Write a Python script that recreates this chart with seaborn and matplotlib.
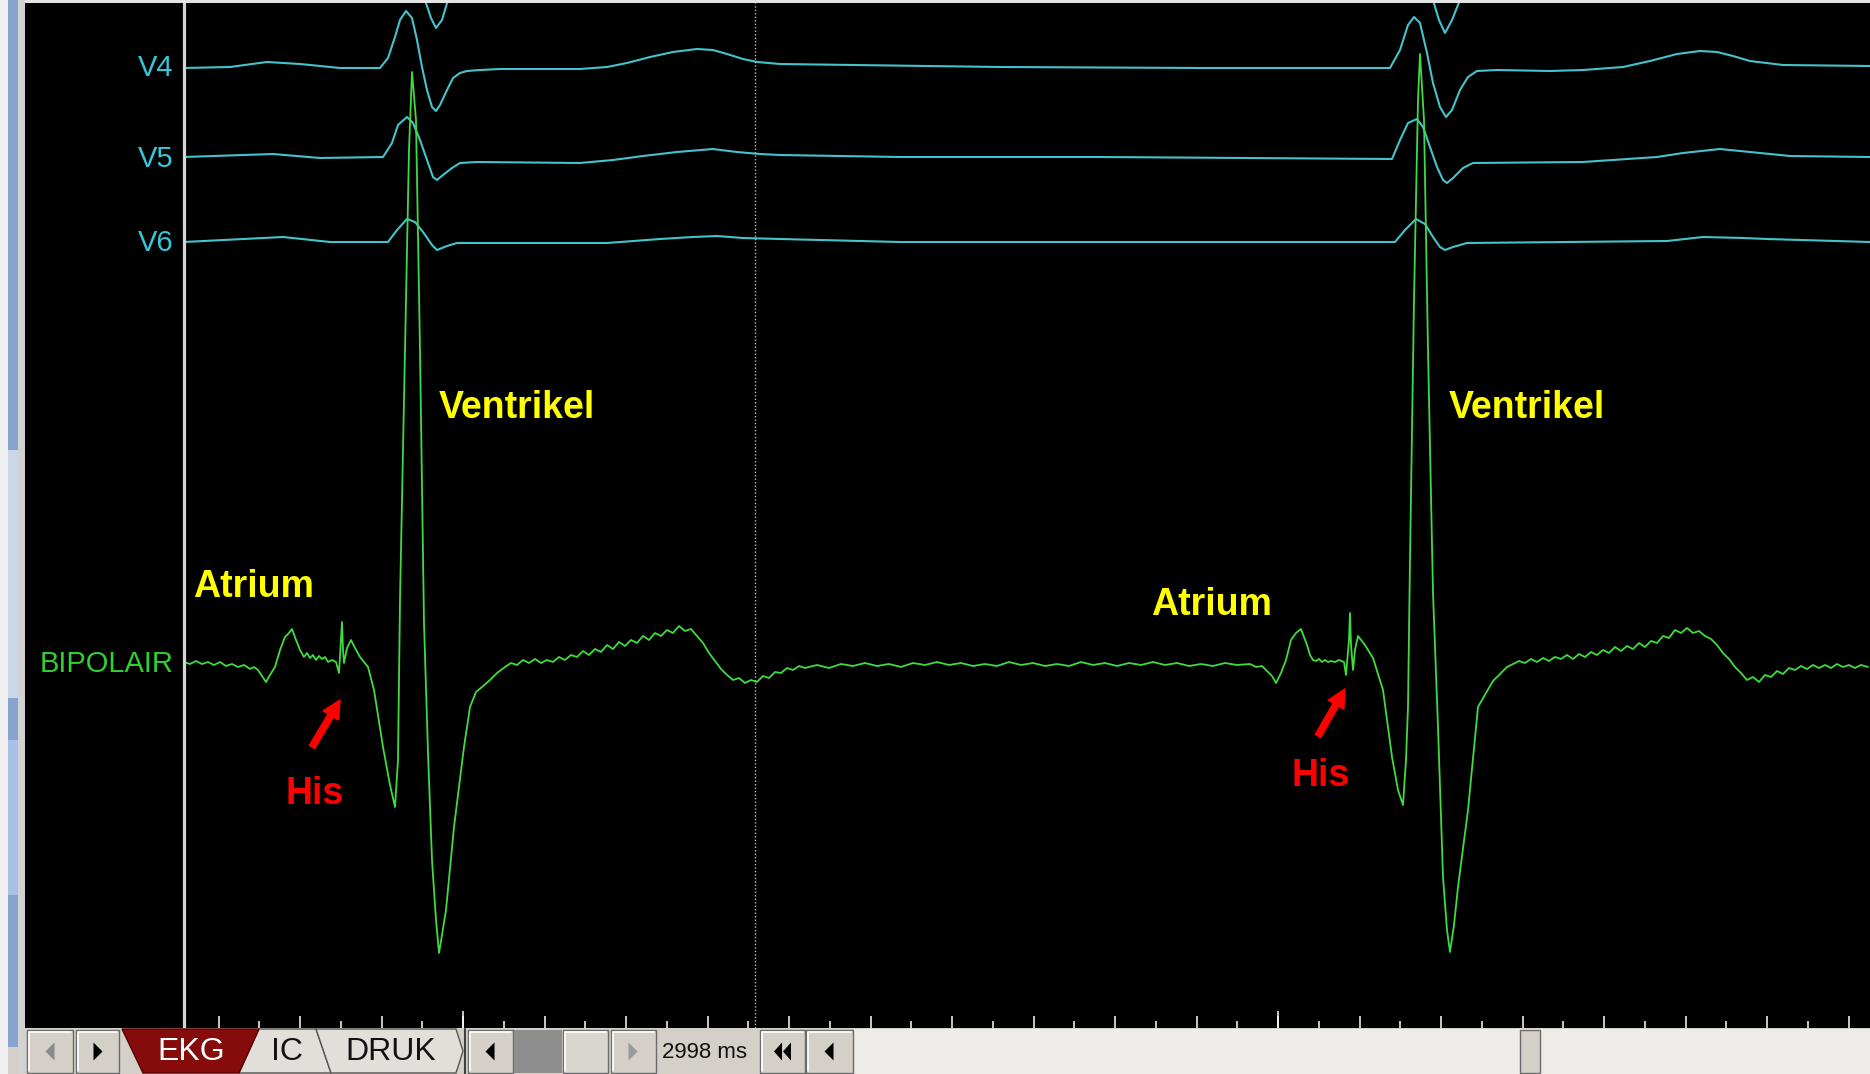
import numpy as np
import pandas as pd
import seaborn as sns
import matplotlib
matplotlib.use("Agg")
import matplotlib.pyplot as plt
from matplotlib.patches import Rectangle, Polygon
from matplotlib import font_manager

# ---------------- data (sample index at 815 Hz, amplitude in display units) -------------
bip_samples = [2, 8, 14, 20, 26, 32, 38, 44, 50, 56, 62, 68, 72, 76, 80, 84, 88, 93, 98, 103, 107, 110,
               114, 118, 122, 125, 128, 131, 134, 137, 140, 143, 146, 150, 154, 157, 159, 160, 161, 162,
               165, 169, 173, 178, 186, 192, 201, 208, 213, 216, 218, 223, 227, 230, 234, 238, 242, 246,
               250, 254, 257, 260, 264, 272, 282, 288, 294, 300, 308, 315, 323, 329, 335, 341, 347, 353,
               359, 365, 371, 377, 383, 389, 395, 401, 407, 413, 419, 425, 431, 437, 443, 449, 455, 461,
               467, 473, 479, 485, 491, 497, 503, 509, 515, 521, 527, 533, 539, 545, 551, 557, 563, 569,
               575, 581, 587, 593, 599, 605, 611, 617, 623, 635, 647, 659, 671, 683, 695, 707, 719, 731,
               743, 755, 767, 779, 791, 803, 815, 827, 839, 851, 863, 875, 887, 899, 911, 923, 935, 947,
               959, 971, 983, 995, 1007, 1019, 1031, 1043, 1055, 1068,
               1074, 1080, 1086, 1090, 1094, 1099, 1104, 1109, 1114, 1119, 1125, 1128, 1131, 1134, 1137,
               1140, 1143, 1146, 1149, 1153, 1157, 1162, 1164, 1167, 1168, 1169, 1171, 1173, 1176, 1183,
               1191, 1201, 1210, 1216, 1221, 1224, 1226, 1228, 1232, 1236, 1238, 1242, 1246, 1251, 1256,
               1261, 1265, 1268, 1272, 1276, 1286, 1296, 1304, 1311, 1319, 1325, 1331, 1337, 1343, 1349,
               1355, 1361, 1367, 1373, 1379, 1385, 1391, 1397, 1403, 1409, 1415, 1421, 1427, 1433, 1439,
               1445, 1451, 1457, 1463, 1469, 1475, 1481, 1487, 1493, 1499, 1505, 1511, 1517, 1523, 1529,
               1535, 1541, 1547, 1553, 1559, 1565, 1571, 1577, 1583, 1589, 1595, 1601, 1607, 1613, 1619,
               1625, 1631, 1637, 1643, 1649, 1655, 1661, 1667, 1673, 1679, 1686]
bip_amp = [1, -1, 2, -1, 1, -2, 1, -3, -1, -4, -2, -6, -4, -7, -13, -19, -12, -4, 13, 26, 30, 34,
           23, 13, 6, 10, 5, 8, 3, 7, 4, 6, 1, 3, 1, -10, 23, 41, 13, 0,
           15, 23, 15, 6, -4, -27, -84, -122, -144, -97, 63, 313, 513, 591, 543, 313, 40, -90,
           -197, -257, -290, -272, -247, -164, -84, -44, -29, -24, -17, -10, -4, 0, -2, 3, 0, 4,
           0, 3, 1, 6, 3, 8, 6, 12, 8, 14, 11, 18, 14, 21, 17, 23, 20, 27,
           23, 30, 27, 33, 30, 37, 32, 34, 27, 20, 10, 2, -6, -12, -17, -15, -20, -17,
           -19, -13, -15, -9, -10, -5, -7, -3, -5, -2, -5, -1, -3, 0, -3, -1, -4, 0,
           -2, 1, -2, 0, -3, -1, -3, 1, -2, 0, -3, -1, -3, 1, -2, 0, -3, 0,
           -2, 1, -2, 0, -3, -1, -3, 0, -2, -1,
           -4, -3, -9, -13, -20, -10, 3, 23, 30, 34, 18, 8, 3, 2, 4,
           1, 3, 1, 2, 1, 3, 1, -12, 23, 50, 18, -7, 13, 27, 18,
           5, -27, -94, -127, -142, -97, -44, 103, 363, 563, 609, 543, 313, 70, -64,
           -214, -267, -289, -262, -224, -147, -44, -30, -18, -10, -4, -1, 2, 0, 4,
           1, 5, 2, 6, 4, 8, 4, 9, 6, 11, 8, 13, 10, 16, 12,
           17, 14, 20, 16, 22, 20, 27, 25, 33, 30, 35, 30, 32, 27, 24,
           18, 10, 4, -4, -10, -17, -14, -19, -12, -14, -8, -11, -5, -7, -3,
           -6, -2, -5, -2, -5, -1, -4, -2, -5, -2, -4]

v3_samples = [2, 208, 230, 243, 249, 254, 260, 266, 276, 288, 300, 1210, 1232, 1251, 1257, 1263,
              1270, 1278, 1288, 1300, 1312, 1688]
v3_amp = [0, 0, -50, -75, -93, -103, -95, -75, -40, -10, 0, 0, -50, -75, -95, -108,
          -95, -75, -40, -10, 0, 0]

v4_samples = [2, 48, 85, 118, 158, 198, 206, 213, 218, 224, 230, 235, 240, 245, 250, 254, 258, 265,
              271, 278, 285, 298, 318, 398, 425, 445, 468, 491, 515, 531, 545, 561, 575, 598, 818,
              1018, 1208, 1218, 1226, 1232, 1238, 1245, 1251, 1258, 1264, 1270, 1278, 1286, 1295,
              1315, 1368, 1401, 1441, 1468, 1495, 1518, 1535, 1551, 1568, 1601, 1688]
v4_amp = [0, 1, 6, 4, 0, 0, 10, 31, 48, 57, 50, 28, 1, -22, -39, -43, -37, -22,
          -10, -5, -3, -2, -1, -1, 1, 5, 11, 16, 19, 18, 14, 9, 6, 4, 1,
          0, 0, 18, 43, 51, 45, 15, -15, -39, -49, -42, -22, -9, -3,
          -2, -3, -2, 1, 7, 14, 17, 16, 12, 7, 3, 2]

v5_samples = [2, 91, 138, 201, 210, 216, 225, 231, 238, 245, 251, 255, 261, 270, 278, 295, 398, 431,
              461, 495, 531, 555, 578, 598, 718, 918, 1210, 1218, 1226, 1235, 1241, 1248, 1255, 1261,
              1265, 1271, 1281, 1291, 1401, 1475, 1501, 1538, 1568, 1608, 1688]
v5_amp = [0, 3, -1, 0, 14, 32, 40, 34, 17, -3, -20, -23, -18, -11, -6, -5, -6, -3,
          1, 5, 8, 5, 3, 2, 0, 0, -2, 17, 34, 38, 30, 10, -10, -23,
          -26, -21, -11, -6, -5, 0, 4, 8, 5, 1, 0]

v6_samples = [2, 101, 148, 206, 215, 225, 233, 241, 250, 255, 265, 275, 425, 478, 511, 535, 561, 598,
              718, 1213, 1223, 1234, 1243, 1251, 1258, 1263, 1271, 1285, 1485, 1521, 1561, 1585, 1688]
v6_amp = [0, 5, 0, 0, 12, 23, 20, 10, -3, -8, -4, -1, -1, 3, 5, 6, 4, 3,
          0, 0, 12, 23, 18, 5, -5, -8, -5, -1, 1, 5, 4, 3, 0]

channel_labels = ["V4", "V5", "V6", "BIPOLAIR"]
annot_texts = ["Ventrikel", "Atrium", "His"]
duration_text = "2998 ms"
tab_labels = ["EKG", "IC", "DRUK"]

# ---------------- layout (positions / styles) -------------------------------------------
W, H = 1870, 1074
BLACK_TOP, BLACK_BOT = 3, 1028
X0 = 182  # pixel column of sample 0

def yb(row):
    return BLACK_BOT - row

base = {"V3": yb(-75), "V4": yb(68), "V5": yb(157), "V6": yb(242), "BIPOLAIR": yb(663)}
CYAN = "#45c3cc"
CYAN_TXT = "#36c8da"
GREEN = "#3edc3e"
GREEN_TXT = "#2fd02f"

sns.set_theme(style="dark")
plt.rcParams["font.family"] = ["Liberation Sans", "DejaVu Sans"]

fig = plt.figure(figsize=(W / 100, H / 100), dpi=100)
fig.patch.set_facecolor("#e4e4e4")

# left window strip (pixel rows -> figure fraction)
def strip(x0, x1, r0, r1, color):
    fig.patches.append(Rectangle((x0 / W, 1 - r1 / H), (x1 - x0) / W, (r1 - r0) / H,
                                 transform=fig.transFigure, facecolor=color, edgecolor="none"))

strip(0, 8, 0, H, "#f0f0f0")
strip(8, 18, 0, 1047, "#88a3cd")
strip(8, 18, 450, 698, "#cbd6e8")
strip(8, 18, 740, 895, "#a9c1e6")
strip(8, 18, 1047, H, "#d4d0c8")
strip(18, 25, 0, H, "#d2d2d2")

ax = fig.add_axes([25 / W, (H - BLACK_BOT) / H, (W - 25) / W, (BLACK_BOT - BLACK_TOP) / H])
ax.set_facecolor("black")
ax.grid(False)
ax.set_xlim(25 - X0, W - X0)
ax.set_ylim(0, BLACK_BOT - BLACK_TOP)
for s in ax.spines.values():
    s.set_visible(False)

def draw(samples, amp, key, color, lw):
    df = pd.DataFrame({"sample": samples, "amp": amp})
    df["y"] = df["amp"] + base[key]
    sns.lineplot(data=df, x="sample", y="y", ax=ax, color=color, lw=lw,
                 estimator=None, sort=False, legend=False)

draw(v3_samples, v3_amp, "V3", CYAN, 1.5)
draw(v4_samples, v4_amp, "V4", CYAN, 1.5)
draw(v5_samples, v5_amp, "V5", CYAN, 1.5)
draw(v6_samples, v6_amp, "V6", CYAN, 1.5)
draw(bip_samples, bip_amp, "BIPOLAIR", GREEN, 1.3)

ax.set_xlabel("")
ax.set_ylabel("")

# vertical cursor lines
ax.axvline(1.5, color="#d6d6d6", lw=2.3)
ax.axvline(755 - X0, color="#bdbdbd", lw=1.0, ls=(0, (1, 1.5)))

# channel labels
lab_y = {"V4": yb(68), "V5": yb(159), "V6": yb(243), "BIPOLAIR": yb(664)}
for lab in channel_labels:
    col = GREEN_TXT if lab == "BIPOLAIR" else CYAN_TXT
    ax.text(173 - X0, lab_y[lab], lab, color=col, fontsize=21, ha="right", va="center")

# annotations
bold = dict(fontsize=27, fontweight="bold")
ax.text(439 - X0, yb(408), annot_texts[0], color="#ffff00", ha="left", va="center", **bold)
ax.text(1449 - X0, yb(408), annot_texts[0], color="#ffff00", ha="left", va="center", **bold)
ax.text(193 - X0, yb(587), annot_texts[1], color="#ffff00", ha="left", va="center", **bold)
ax.text(1151 - X0, yb(605), annot_texts[1], color="#ffff00", ha="left", va="center", **bold)
ax.text(286 - X0, yb(794), annot_texts[2], color="#ff0000", ha="left", va="center", **bold)
ax.text(1292 - X0, yb(776), annot_texts[2], color="#ff0000", ha="left", va="center", **bold)
arrow = dict(facecolor="#ff0000", edgecolor="#ff0000", width=4.5, headwidth=13, headlength=13, shrink=0)
ax.annotate("", xy=(340 - X0, yb(700)), xytext=(312 - X0, yb(747)), arrowprops=arrow)
ax.annotate("", xy=(1345 - X0, yb(689)), xytext=(1318 - X0, yb(736)), arrowprops=arrow)

# time ruler ticks
major = 36.5 + 81.5 * np.arange(21)
minor = 77.25 + 81.5 * np.arange(20)
ax.set_xticks(major)
ax.set_xticks(minor, minor=True)
ax.set_xticklabels([])
ax.set_yticks([])
ax.tick_params(axis="x", which="major", direction="in", length=9, width=1.1, color="white", bottom=True, pad=0)
ax.tick_params(axis="x", which="minor", direction="in", length=5, width=1.1, color="white", bottom=True)
ax.vlines([281, 1096], 0, 17, color="white", lw=1.1)

# ---------------- toolbar -------------------------------------------------------------
tb = fig.add_axes([0, 0, 1, (H - BLACK_BOT) / H])
tb.set_xlim(0, W)
tb.set_ylim(H, BLACK_BOT)
tb.axis("off")
tb.add_patch(Rectangle((25, BLACK_BOT), W - 25, H - BLACK_BOT, facecolor="#d4d0c8", edgecolor="none"))
tb.add_patch(Rectangle((853, BLACK_BOT + 1), W - 853, H - BLACK_BOT, facecolor="#eeece8", edgecolor="none"))

def button(x0, x1, face="#d4d0c8"):
    tb.add_patch(Rectangle((x0, 1030), x1 - x0, 43, facecolor=face, edgecolor="#6a6a6a", lw=1))
    tb.plot([x0 + 1.5, x0 + 1.5, x1 - 2], [1071, 1031.5, 1031.5], color="white", lw=1.2)

def tri(cx, direction, color="black", w=9, h=18):
    cy = 1051.5
    if direction == "left":
        pts = [(cx + w / 2, cy - h / 2), (cx + w / 2, cy + h / 2), (cx - w / 2, cy)]
    else:
        pts = [(cx - w / 2, cy - h / 2), (cx - w / 2, cy + h / 2), (cx + w / 2, cy)]
    tb.add_patch(Polygon(pts, closed=True, facecolor=color, edgecolor="none"))

button(27, 73); tri(50, "left", "#8a8a8a")
button(76, 119); tri(98, "right")

try:
    font_manager.findfont("Liberation Sans Narrow", fallback_to_default=False)
    narrow = ["Liberation Sans Narrow", "DejaVu Sans"]
except Exception:
    narrow = ["Liberation Sans", "DejaVu Sans"]

tb.add_patch(Polygon([(259, 1029), (316, 1029), (331, 1073), (239, 1073)], closed=True,
                     facecolor="#e2dfda", edgecolor="#555555", lw=1))
tb.add_patch(Polygon([(316, 1029), (456, 1029), (463, 1051), (456, 1073), (331, 1073)], closed=True,
                     facecolor="#e2dfda", edgecolor="#555555", lw=1))
tb.add_patch(Polygon([(122, 1029), (259, 1029), (239, 1073), (143, 1073)], closed=True,
                     facecolor="#860b0b", edgecolor="#5a0000", lw=1))
tb.text(191, 1052, tab_labels[0], color="white", fontsize=23, ha="center", va="center", family=narrow)
tb.text(287, 1052, tab_labels[1], color="#111111", fontsize=23, ha="center", va="center", family=narrow)
tb.text(391, 1052, tab_labels[2], color="#111111", fontsize=23, ha="center", va="center", family=narrow)
tb.plot([465, 465], [1029, 1074], color="#404040", lw=1.5)

button(468, 513); tri(490, "left")
tb.add_patch(Rectangle((514, 1030), 48, 43, facecolor="#8e8e8e", edgecolor="none", hatch="....", lw=0))
button(563, 608, "#d9d6d0")
button(611, 656); tri(633, "right", "#9a9a9a")
tb.text(662, 1052, duration_text, color="#111111", fontsize=16, ha="left", va="center", family=narrow)
button(760, 805); tri(778, "left", w=8); tri(787, "left", w=8)
button(806, 853); tri(829, "left")
tb.add_patch(Rectangle((1520, 1030), 20, 43, facecolor="#d4d0c8", edgecolor="#6a6a6a", lw=1))

fig.savefig("out.png", dpi=100, facecolor=fig.get_facecolor())
